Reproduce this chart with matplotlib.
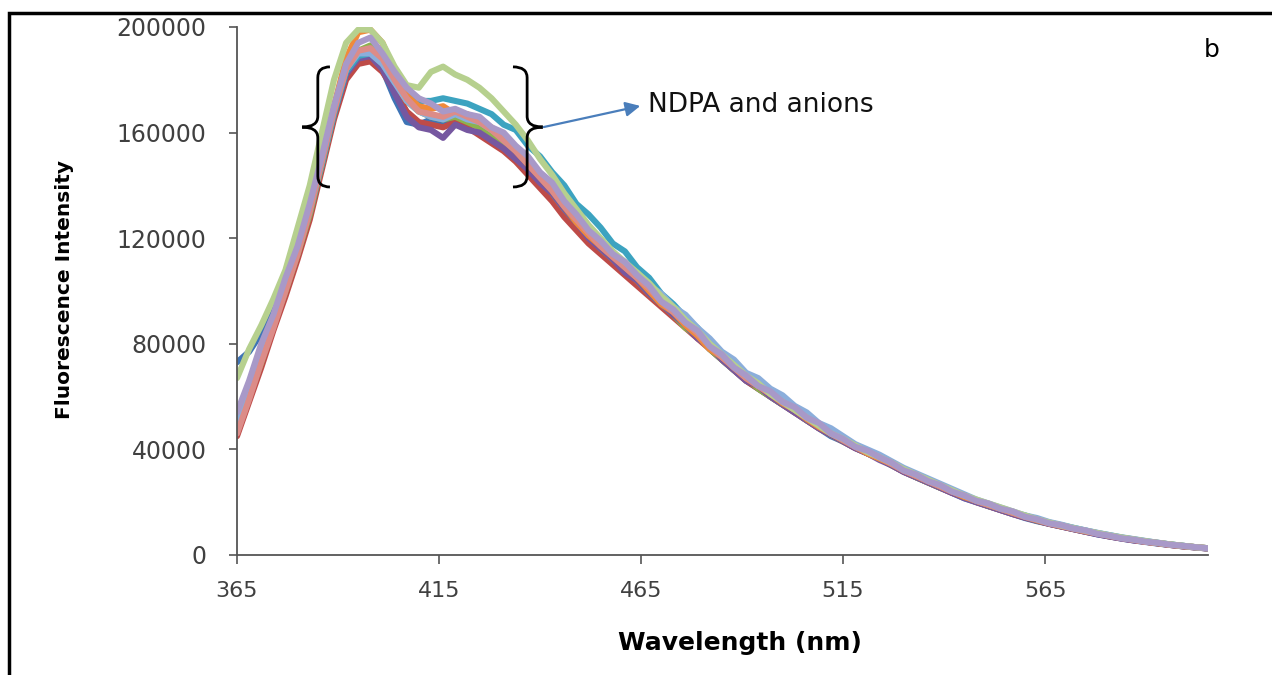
import numpy as np
import matplotlib
matplotlib.use("Agg")
import matplotlib.pyplot as plt
from matplotlib.path import Path
from matplotlib.patches import PathPatch, Rectangle

# ---- datos (intensidad en miles) ----
wl = np.arange(365, 606, 3)   # 365, 368, ..., 605  (81 puntos)

blue = [73, 77, 84, 93, 104, 115, 130, 148, 166, 181,
        187, 189, 184, 173, 164, 163, 165, 164, 166, 165,
        163, 161, 158, 154, 149, 144, 139, 133, 128, 122,
        117, 113, 109, 105, 100, 95, 91, 87, 83, 78,
        74, 70, 66, 63, 60, 57, 54, 51, 48, 45,
        43, 40.5, 38.5, 36.5, 34, 31.5, 29.5, 27.5, 25.5, 23.5,
        21.5, 20, 18.5, 17, 15.5, 14, 12.8, 11.8, 10.8, 9.8,
        8.8, 7.8, 7, 6.2, 5.5, 4.9, 4.3, 3.8, 3.3, 2.9,
        2.5]
red = [45, 58, 71, 85, 98, 112, 127, 146, 165, 180,
       186, 187, 183, 176, 168, 164, 163, 162, 164, 162,
       159, 156, 153, 149, 144, 139, 134, 128, 123, 118,
       114, 110, 106, 102, 98, 94, 90, 86, 82, 78,
       74, 70, 66, 63, 60, 57, 54, 51, 48, 45.5,
       43, 40.5, 38.5, 36.5, 34, 31.5, 29.5, 27.5, 25.5, 23.5,
       22, 20, 18.5, 17, 15.5, 14.2, 13, 11.8, 10.8, 9.8,
       8.8, 8, 7, 6.3, 5.6, 5, 4.4, 3.8, 3.3, 2.9,
       2.5]
green = [47, 60, 73, 87, 100, 114, 129, 148, 167, 183,
         191, 193, 187, 179, 172, 168, 166, 165, 166, 164,
         162, 159, 156, 152, 147, 142, 137, 131, 126, 121,
         116, 112, 108, 104, 99, 95, 91, 86, 83, 78,
         74, 70, 67, 63, 60, 57, 54.5, 51, 48.5, 45.5,
         43, 41, 38.5, 36.5, 34, 32, 29.5, 27.5, 25.5, 24,
         22, 20.5, 18.5, 17.5, 16, 14.5, 13, 12, 11, 10,
         9, 8.2, 7.2, 6.5, 5.8, 5.1, 4.5, 4, 3.5, 3,
         2.6]
purple = [50, 63, 76, 89, 102, 116, 131, 149, 167, 182,
          188, 189, 184, 175, 166, 162, 161, 158, 163, 161,
          160, 157, 154, 150, 146, 141, 137, 131, 126, 120,
          116, 112, 107, 104, 99, 95, 91, 87, 82, 79,
          74, 70, 66, 64, 60, 57, 54, 51, 48, 45.5,
          43, 40.5, 38.5, 36, 34, 31.5, 29.5, 27.5, 25.5, 23.5,
          21.5, 20, 18.5, 17, 15.5, 14.2, 13, 11.8, 10.8, 9.8,
          8.8, 7.8, 7, 6.2, 5.5, 5, 4.4, 3.8, 3.3, 2.9,
          2.5]
teal = [49, 62, 75, 88, 101, 115, 130, 148, 167, 183,
        189, 190, 186, 179, 174, 172, 172, 173, 172, 171,
        169, 167, 163, 161, 155, 151, 145, 140, 133, 129,
        124, 118, 115, 109, 105, 99, 95, 90, 86, 80,
        76, 72, 68, 65, 62, 58, 55, 52, 49, 46.5,
        44, 41.5, 39.5, 37, 35, 32.5, 30.5, 28.5, 26.5, 24.5,
        22.5, 20.5, 19, 17.5, 16, 15, 13.5, 12.3, 11.3, 10.3,
        9.3, 8.3, 7.5, 6.6, 5.9, 5.2, 4.6, 4, 3.5, 3,
        2.6]
orange = [48, 61, 74, 88, 101, 115, 131, 150, 170, 188,
          198, 199, 194, 183, 174, 170, 169, 170, 167, 167,
          164, 162, 158, 153, 148, 143, 138, 132, 126, 121,
          117, 113, 109, 105, 100, 95, 92, 87, 83, 78,
          75, 71, 67, 64, 61, 57.5, 55, 51.5, 48.5, 46,
          43.5, 41, 38.5, 36.5, 34.5, 32, 30, 28, 26, 24,
          22, 20.5, 19, 17.5, 16, 14.5, 13.2, 12, 11, 10,
          9, 8.2, 7.3, 6.5, 5.8, 5, 4.5, 3.9, 3.4, 3,
          2.6]
light_blue = [51, 64, 77, 90, 103, 116, 132, 150, 169, 184,
              190, 190, 186, 179, 172, 168, 166, 165, 167, 165,
              164, 161, 158, 154, 149, 144, 139, 134, 128, 123,
              118, 115, 110, 107, 102, 99, 94, 91, 86, 82,
              77, 74, 69, 67, 63, 60.5, 56.5, 54, 50, 48,
              45, 42, 40, 38, 35.5, 33, 31, 29, 27, 25,
              23, 21, 19.5, 18, 16.5, 15, 14, 12.5, 11.5, 10.3,
              9.3, 8.4, 7.5, 6.7, 6, 5.3, 4.6, 4, 3.5, 3,
              2.6]
salmon = [46, 59, 73, 86, 100, 114, 130, 149, 168, 184,
          191, 192, 188, 180, 173, 168, 167, 166, 168, 166,
          164, 161, 157, 153, 148, 143, 138, 132, 127, 122,
          117, 113, 109, 105, 101, 96, 92, 88, 84, 79,
          75, 71, 67, 64, 61, 58, 55, 52, 49, 46,
          43.5, 41, 39, 37, 34.5, 32, 30, 28, 26, 24,
          22.5, 20.5, 19, 17.5, 16, 14.5, 13.3, 12, 11, 10,
          9, 8.1, 7.2, 6.4, 5.7, 5, 4.5, 3.9, 3.4, 3,
          2.6]
light_green = [67, 78, 87, 97, 108, 124, 140, 160, 180, 194,
               199, 199, 194, 185, 178, 177, 183, 185, 182, 180,
               177, 173, 168, 163, 157, 150, 144, 137, 131, 125,
               120, 115, 111, 107, 103, 98, 94, 89, 85, 80,
               76, 72, 68, 65, 61, 58, 55, 52, 49, 46,
               44, 41.5, 39, 37, 35, 32.5, 30.5, 28.5, 26.5, 24.5,
               22.5, 21, 19.5, 18, 16.5, 15, 13.5, 12.3, 11.2, 10.2,
               9.2, 8.3, 7.4, 6.6, 5.9, 5.2, 4.6, 4, 3.5, 3,
               2.6]
lavender = [54, 66, 80, 91, 105, 117, 133, 151, 170, 186,
            194, 196, 190, 183, 177, 173, 171, 168, 169, 167,
            166, 162, 160, 155, 151, 145, 141, 134, 129, 123,
            119, 114, 111, 106, 102, 96, 93, 88, 85, 79,
            76, 71, 68, 64, 62, 58, 56, 52, 50, 46,
            44, 41, 39.5, 37, 35, 32, 30.5, 28, 26.5, 24,
            22.5, 20.5, 19.5, 17.5, 16.5, 14.5, 13.5, 12, 11.3, 10,
            9.3, 8, 7.3, 6.3, 5.8, 5, 4.6, 3.9, 3.5, 3,
            2.6]

series = [
    (blue, "#3E74B6"),
    (red, "#BE4B48"),
    (green, "#8DB24E"),
    (purple, "#7657A0"),
    (teal, "#3CA3C0"),
    (orange, "#F08A3A"),
    (light_blue, "#8BAEDB"),
    (salmon, "#DC8C88"),
    (light_green, "#B6D08E"),
    (lavender, "#A899C8"),
]

x_ticks = [365, 415, 465, 515, 565]
y_ticks = [0, 40000, 80000, 120000, 160000, 200000]


def llave(ax, x_fin, x_tallo, x_punta, y_sup, y_med, y_inf, **kw):
    r = (y_sup - y_inf) * 0.09
    verts = [(x_fin, y_sup), (x_tallo, y_sup), (x_tallo, y_sup - r),
             (x_tallo, y_med + r),
             (x_tallo, y_med), (x_punta, y_med),
             (x_tallo, y_med), (x_tallo, y_med - r),
             (x_tallo, y_inf + r),
             (x_tallo, y_inf), (x_fin, y_inf)]
    codes = [Path.MOVETO, Path.CURVE3, Path.CURVE3, Path.LINETO,
             Path.CURVE3, Path.CURVE3, Path.CURVE3, Path.CURVE3,
             Path.LINETO, Path.CURVE3, Path.CURVE3]
    ax.add_patch(PathPatch(Path(verts, codes), fill=False, **kw))


fig = plt.figure(figsize=(12.72, 6.75), dpi=100)
ax = fig.add_axes([237 / 1272, 1 - 555 / 675, 971 / 1272, 528 / 675])

for vals, col in series:
    ax.plot(wl, np.array(vals) * 1000, color=col, lw=4.4,
            solid_joinstyle="round", solid_capstyle="round")

ax.set_xlim(365, 605.3)
ax.set_ylim(0, 200000)
ax.set_xticks(x_ticks)
ax.set_yticks(y_ticks)
ax.set_yticklabels([str(v) for v in y_ticks])

for lado in ["top", "right"]:
    ax.spines[lado].set_visible(False)
for lado in ["left", "bottom"]:
    ax.spines[lado].set_color("#555555")
    ax.spines[lado].set_linewidth(1.3)

ax.tick_params(axis="y", direction="out", length=6, width=1.2, color="#555555",
               labelsize=17, labelcolor="#404040", pad=16)
ax.tick_params(axis="x", direction="out", length=6.5, width=1.2, color="#555555",
               labelsize=16, labelcolor="#404040", pad=12)

# llaves y flecha
llave(ax, 388.0, 385.0, 381.1, 184900, 162100, 139400, color="black", lw=2, zorder=5)
llave(ax, 433.3, 436.8, 440.7, 184900, 162100, 139400, color="black", lw=2, zorder=5)
ax.annotate("", xy=(464.8, 170100), xytext=(440.9, 162100),
            arrowprops=dict(arrowstyle="-|>", color="#4A7EBB", lw=1.6,
                            mutation_scale=22, shrinkA=0, shrinkB=0), zorder=6)
ax.text(466.7, 170500, "NDPA and anions", fontsize=19, color="#111111",
        ha="left", va="center")

# textos de figura
fig.text(1212 / 1272, 1 - 50 / 675, "b", fontsize=18, ha="center", va="center")
fig.text(740 / 1272, 1 - 643 / 675, "Wavelength (nm)", fontsize=18,
         fontweight="bold", ha="center", va="center")
fig.text(65 / 1272, 1 - 290 / 675, "Fluorescence Intensity", rotation=90,
         fontsize=14.5, fontweight="bold", ha="center", va="center")

# marco
fig.patches.append(Rectangle((9 / 1272, -0.1), 1.2, 1 - 13 / 675 + 0.1,
                             transform=fig.transFigure, fill=False,
                             edgecolor="black", lw=2.5))

fig.savefig("out.png", dpi=100)
